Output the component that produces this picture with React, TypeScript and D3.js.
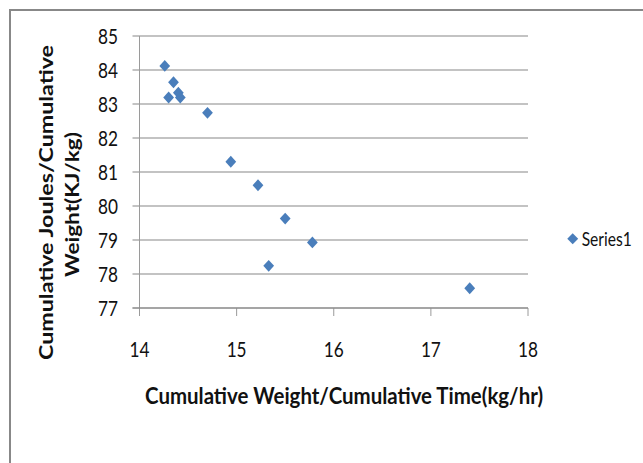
import React from "react";
import * as d3 from "d3";

const xValues = [14.26, 14.35, 14.3, 14.4, 14.42, 14.7, 14.94, 15.22, 15.5, 15.33, 15.78, 17.4];
const yValues = [84.12, 83.64, 83.19, 83.33, 83.19, 82.74, 81.3, 80.61, 79.63, 78.24, 78.93, 77.58];
const xTicks = [14, 15, 16, 17, 18];
const yTicks = [77, 78, 79, 80, 81, 82, 83, 84, 85];
const seriesName = "Series1";
const xTitle = "Cumulative Weight/Cumulative Time(kg/hr)";
const yTitleLines = ["Cumulative Joules/Cumulative", "Weight(KJ/kg)"];

const W = 643;
const H = 463;
const FONT = "Lato, 'Open Sans', sans-serif";
const BLUE = "#4a7ebb";
const GRID = "#878787";
const AXIS = "#9a9a9a";

export default function App() {
  const x = d3.scaleLinear().domain([14, 18]).range([139.5, 528]);
  const y = d3.scaleLinear().domain([77, 85]).range([308, 36]);
  const diamond = d3.symbol().type(d3.symbolDiamond2).size(82)() as string;
  const legendDiamond = d3.symbol().type(d3.symbolDiamond2).size(76)() as string;
  const x0 = x(14);
  const y0 = y(77);

  return (
    <svg
      width={W}
      height={H}
      style={{ position: "absolute", left: 0, top: 0, background: "#fff" }}
    >
      <rect x={0} y={0} width={W} height={H} fill="#fff" />
      {/* outer frame */}
      <rect x={10} y={10} width={W + 20} height={H + 20} fill="none" stroke="#888" strokeWidth={2} />

      {/* gridlines */}
      {yTicks.map((t) => (
        <line key={"g" + t} x1={x0 - 7} x2={x(18)} y1={y(t)} y2={y(t)} stroke={GRID} strokeWidth={1} />
      ))}
      {/* y axis */}
      <line x1={x0} x2={x0} y1={y(85)} y2={y0 + 8} stroke={AXIS} strokeWidth={1} />
      {/* x axis ticks */}
      {xTicks.map((t) => (
        <line key={"xt" + t} x1={x(t)} x2={x(t)} y1={y0} y2={y0 + 8} stroke={AXIS} strokeWidth={1} />
      ))}
      <line x1={x0 - 7} x2={x(18)} y1={y0} y2={y0} stroke={GRID} strokeWidth={1} />

      {/* y tick labels */}
      {yTicks.map((t) => (
        <text
          key={"yl" + t}
          x={118}
          y={y(t) + 7.5}
          textAnchor="end"
          fontFamily={FONT}
          fontSize={21}
          textLength={20}
          lengthAdjust="spacingAndGlyphs"
          fill="#111"
        >
          {t}
        </text>
      ))}
      {/* x tick labels */}
      {xTicks.map((t) => (
        <text
          key={"xl" + t}
          x={x(t) - 10}
          y={357.3}
          fontFamily={FONT}
          fontSize={20.5}
          textLength={20}
          lengthAdjust="spacingAndGlyphs"
          fill="#111"
        >
          {t}
        </text>
      ))}

      {/* points */}
      {xValues.map((v, i) => (
        <path key={"p" + i} d={diamond} transform={`translate(${x(v)},${y(yValues[i])}) scale(0.95,1.05)`} fill={BLUE} />
      ))}

      {/* x title */}
      <text
        x={145}
        y={404}
        fontFamily={FONT}
        fontWeight="bold"
        fontSize={23.5}
        textLength={398}
        lengthAdjust="spacingAndGlyphs"
        fill="#111"
      >
        {xTitle}
      </text>

      {/* y title */}
      <text
        transform={`translate(53,360) rotate(-90)`}
        x={0}
        y={0}
        fontFamily={FONT}
        fontWeight="bold"
        fontSize={19.5}
        textLength={315}
        lengthAdjust="spacingAndGlyphs"
        fill="#111"
      >
        {yTitleLines[0]}
      </text>
      <text
        transform={`translate(79,277) rotate(-90)`}
        x={0}
        y={0}
        fontFamily={FONT}
        fontWeight="bold"
        fontSize={19.5}
        textLength={145}
        lengthAdjust="spacingAndGlyphs"
        fill="#111"
      >
        {yTitleLines[1]}
      </text>

      {/* legend */}
      <path d={legendDiamond} transform="translate(572.7,238.7)" fill={BLUE} />
      <text
        transform="translate(581.7,246) scale(0.78,1)"
        x={0}
        y={0}
        fontFamily={FONT}
        fontSize={20}
        fill="#111"
      >
        {seriesName}
      </text>
    </svg>
  );
}
